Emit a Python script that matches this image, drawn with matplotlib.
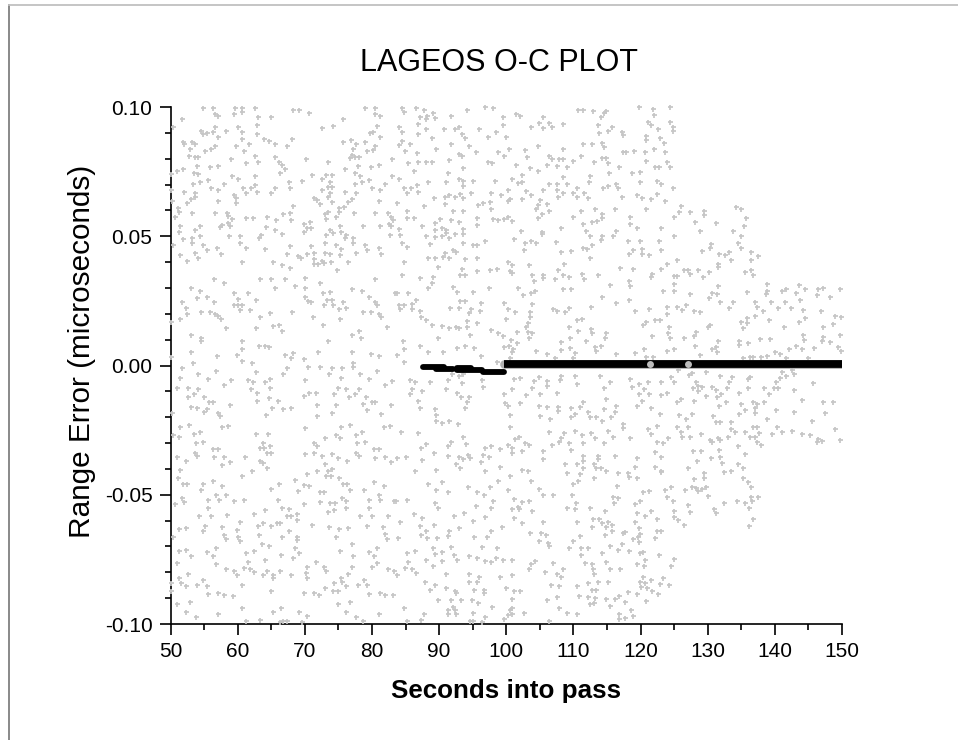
import numpy as np
import matplotlib
matplotlib.use('Agg')
import matplotlib.pyplot as plt
from matplotlib.lines import Line2D
from matplotlib.ticker import MultipleLocator

# all scatter values: (seconds into pass, range error in nanoseconds)
noise_top_left = [(54.9,99.5),(56.4,99.5),(59.6,99.5),(60.7,99.5),(62.6,99.5),(68.3,98.8),(69.2,98.8),(70.6,97.5),(78.9,99.5),(80.4,99.5),
(56.6,97.3),(57,96.5),(59.4,97.2),(60.7,98.2),(51.7,95.2),(63,96),(65,96),(75.7,95.2),(80.4,97.3),(81.2,96.6),
(50.3,92.4),(56.6,92.4),(60,92.1),(62.9,93),(72.6,91.7),(74.2,92.6),(80.7,92.6),
(54.6,90.8),(56.4,90.2),(58.2,90.7),(60.6,90.5),(62.9,89.5),(55.5,89.8),(54.9,89.4),(57,88.5),(80.2,90.2),(81.2,88.5),(79.7,89.8),
(51.8,86.6),(53.2,86.6),(53.7,85.6),(52,85.7),(60.7,87.5),(63.9,87.5),(64.6,87),(65.5,85.6),(68.1,87.5),(67.4,84.9),(59.8,84.9),(61.7,85.6),(75.7,86.6),(76.9,87.2),(77.6,85.6),(78.9,86.6),(80.4,84.9),
(52.9,83.6),(56.6,84.9),(56,83.6),(55.2,83),(61,83),(77.2,83.6),(79.3,83),(80.2,83.4),
(52.8,81),(53.6,80.5),(54.1,80.5),(59,80),(62.6,81.2),(65.5,80.5),(70.2,80),(77,81.4),(76.7,80.1),(77.5,80.5),(78.1,80.5),(83,80),
(61.3,78.2),(63,78.6),(66.1,78.6),(66.6,77.6),(73.4,78.8),
(54,77.2),(55.9,76.9),(57,77.3),(67.1,76.1),(77.9,77.3),(79.8,76.9),(81,77.6),
(50.9,75.4),(51.9,75.9),(50.1,74),(53.5,74.6),(54.1,74),(66.3,74.6),(76,75.9),(77.5,74.6),(78.2,73.3),(83,73.3),
(59.1,73.3),(62.6,73.3),(71.1,73.8),(73.2,73.8),(74.1,73.8),
(55.6,71.7),(54.4,71),(53.4,70.2),(60,72),(67.7,71),(69.6,71.5),(72.5,72.3),(79.5,71.7),(78.5,71),(77.5,70.2),(81.9,70.2),(73.7,71),
(58,70.2),(62.6,69.9),(62,68.8),(60.8,68.5),(56.1,68.5),(57.1,67.9),(65.5,68.5),(67.8,68.5),(73.5,69.2),(74,69.2),(80,68.5),(81.2,67.9),
(50,67.9),(52,67),(53.7,66.6),(53.7,65.3),(62.9,67.2),(61.2,66.6),(65,66.6),(72.5,67.9),(73.7,66.6),(76,67),(77.6,66.6),
(59.4,65.9),(59.8,64.7),(73.5,65.3),(71.3,64.9),(71.8,64),(77,64.4),(76.4,63.4),(81,63.6),
(50.2,63.8),(53,64.3),(52.5,63),(57,63.6),(59.8,63),(72.3,62.5),(74.1,63.4),(68.3,61.8),(75.8,61.2),(75.1,60.8),
(51.1,60.8),(51.2,59.5),(53.2,58.9),(56.6,59.1),(58.4,59.1),(58.6,57.8),(66.8,58.6),(67.8,58.9),(73.5,59.2),(73,58.6),(75.1,59.5),(77.3,58.9),(80.4,59.1),(82.4,59.1),(82.9,57.6),
(50.7,57.6),(61.2,56.9),(62.3,56.9),(64.3,57.3),(59.1,56.5),(65.7,56.3),(68,56.3),(74.6,57.6),(73.2,56.7),(83.2,56.3),
(58.6,55.2),(57.6,54.3),(57.4,53.7),(58.9,54),(69.9,54.7),(70.7,55.6),(70.3,53),(70.9,53),(51.4,54),(54.4,54),(64.2,53.7),(75.3,54),(78.6,54),(81.2,54),(82.5,54.7),(82.9,54),
(51.3,51.8),(53.7,52.4),(65.5,52.4),(73.7,52.4),(69.9,51.5),(74.2,51.1),(66.6,50.7),(75.4,51.5),
(58.7,50.2),(60.3,50.2),(63.5,50.5),(63.2,49.2),(54.4,50),(73.1,50.5),(76.2,50.5),(76,49.2),(77.2,49.2),(82.7,50.6),
(51.9,49),(53.2,49.2),(53.2,47.3),(50.4,46.6),(54.8,46.6),(60.3,47.3),(67.8,46.2),(70.9,46.3),(73,47.3),(74.6,46.5),(77.2,47.3),(78.9,46.5),
(55.4,44.7),(56.9,45.3),(61.2,45.3),(64.1,45),(75.4,45),(79.3,44.7),(81,45.3),
(51.4,42.7),(53.6,43.6),(57.5,43),(67.3,43),(69,42.4),(69.4,41.7),(70.4,43),(71.4,43.6),(73,43.4),(73.7,43),(75.3,42.7),(77.6,43.6),(81.4,43),
(54.1,41.4),(52.4,40.5),(60.7,39.9),(65.2,40.2),(71.3,41.1),(72.5,40.4),(73.9,39.9),(76.4,40.2),
(66.6,39),(67.8,37.6),(71.3,39.1),(72,39.1),(72.8,39.5),(74.8,36.9),
(56.5,33.3),(57.9,32),(63.3,33.3),(65,33.3),(67,33.3),(70,33.7),(80.4,33.3),(72.3,31.8),(68.5,30.9),
(53,29.8),(54.4,29),(65.5,30.1),(70.1,30.1),(77,29.6),(78.5,29),(83.4,28.2),(59.5,28.2),(61.5,27.9),(72.7,27.9),(73.7,28.3),
(53.9,26),(55.5,26.6),(60.1,25.6),(56.5,24.7),(51.7,24.7),(62.7,25.3),(70.1,26.6),(70.5,24.9),(70.9,24.7),(73.3,25.3),(74.1,25.3),(79.6,26.6),(80.4,24.7),
(59.5,23.4),(60,23.4),(60.6,23.4),(72.8,23.4),(74.2,23.4),(75.7,24.7),(80.8,23.4),
(52.3,22.4),(60.3,21.5),(61.8,21.5),(75.1,21.8),(76.2,22.4),
(52.4,19.8),(54.5,20.6),(55.9,20.8),(56.6,19.8),(57.1,19.1),(57.5,18),(64.8,20.2),(68.1,20.7),(78.6,20.6),(79.8,20.8),(81,19.8),(81.4,18.6),
(51.4,18),(50.1,17),(63.3,18.6),(71.2,18.9),(75.3,18),
(58.2,14.6),(62.7,14.4),(65.2,15.3),(66.2,15.5),(66.6,13.2),(72.7,15.5),(82.3,15),
(53,11.9),(54.5,10.5),(54.6,9.6),(60.6,9.6),(73.4,9.6),(77.1,11.7),(78.1,13.5),(78.4,10.8),
(63.2,7.7),(64,7.7),(64.6,7),(60.7,6.2),(53,5.2),(72,5.2),(77,5.2),
(56.9,3.7),(59.9,3.9),(67.1,3.9),(68.3,4.7),(68,2.9),(69.9,2.4),(79.9,4.3),(81,3.7),(50.1,3.2),
(60.7,1.6),(53.3,1.1),(77.2,1.1),(62.1,0.8)]

noise_top_mid = [(84.5,99.5),(84.7,98.2),(86.6,99.5),(87.7,98.8),(94.1,98.8),(98.1,99.5),(96.9,100),(110.7,98.8),(111.5,98.8),(112.9,98.6),(114.9,98.6),(114.6,97.5),
(87.1,96),(88.2,96.5),(88,95.2),(89.1,97.5),(89.4,95.6),(91.7,96.5),(99.5,96),(101.5,97.2),(102.1,96.5),(105.4,96),(114.1,96.3),
(86.8,93.3),(84,92.1),(88,91.5),(84.5,90.3),(86.8,89.5),(90.8,91.5),(92.3,91.4),(93,92.1),(95.9,91.5),(99.5,93),(98.5,90.3),(103.7,92.1),(104.9,93.7),(106.3,93.9),(106.8,92.1),(105.5,91.7),(108.4,93.4),(113.7,93),(115.8,92.1),(115.2,90.8),(113.8,89.8),(117.2,90.5),
(84.5,87),(84,85.3),(88.9,87.9),(93.4,89.4),(93.9,87.9),(97.3,88.5),(100,88.5),(85.6,85.7),(91.8,85.7),(94.5,84.9),(104.7,84.9),(111.5,85.6),(112.7,85.6),(114.3,85.9),(114.6,84.6),(117.4,89.2),
(84.9,83),(86.7,82.1),(89.5,83.6),(92.9,82),(93.4,81),(95.5,82.4),(98.7,82.4),(100.4,83.6),(99.7,81.2),(102.8,83.4),(108.4,83.6),(106.3,81.2),(111.2,81.2),(117.4,82.7),(103.1,80.5),
(86.8,78.8),(85.4,78.2),(88.1,78.6),(88.9,78.8),(91.4,79.5),(97.3,78.8),(97.9,78.2),(106.8,79.7),(107.8,79.9),(108.5,79.7),(107.5,77.3),(110,79.2),(113.1,78.8),(114.3,80.1),(114.9,80.1),(115.2,78.2),
(86.2,75.4),(93.6,76.4),(91.3,74.6),(101.4,77.6),(103.5,76.3),(104.8,75.4),(102.3,73.8),(106,77.6),(109.1,76.9),(116.8,76.9),(115.3,74.3),
(84,72.1),(88.4,71),(91,71),(92.9,72.1),(93.6,71.5),(95,71.5),(98.3,71.5),(100.9,72.1),(101.7,70.5),(102.3,71.1),(108.4,72.8),(112.4,73.3),(112.3,71),(106.3,70.2),(107.5,70.2),(109,70.2),(116.4,70.2),
(84.7,68.5),(85.8,68.8),(86.7,69.8),(86.9,67.2),(85.2,66.6),(93.6,69.4),(100.2,67.9),(103,67.6),(105.5,67.9),(107.6,67.9),(110.5,68.5),(115.1,69.4),(114.4,68.5),(116.7,68.5),
(83.8,63),(89.2,64.9),(90.9,65),(91.4,66),(92.3,65.3),(93.1,66.3),(93.6,64.9),(94.7,66.6),(97.8,66.6),(99.2,65.9),(103.7,65.9),(108.4,66.6),(107.7,65.3),(110,66.6),(110.6,65.3),(111.6,66.6),(112.1,64.9),(117.3,65),
(87.7,61.8),(90.9,62.5),(95.8,62.1),(96.5,63),(97.6,63.4),(100.6,64.3),(100.2,63.6),(102.3,64.4),(105.1,64),(106,62.3),(104.8,62.1),
(85.2,59.9),(92.1,59.9),(93.6,59.9),(97.7,60.7),(104.4,60.7),(106.3,59.9),(111.1,59.8),(113.2,60.4),(116.2,60.7),
(85.2,57),(86.3,57),(90.1,56.5),(91.8,56.3),(95.7,57),(98.1,56.7),(98.8,56.3),(99.6,56.7),(100.2,57.6),(100.9,55.8),(104.7,57),(105.3,58.6),(109.9,57.3),(114.3,58.6),(114.3,56.9),(113.5,56),(112.7,55.6),
(89.4,55),(92.9,55.4),(95.7,54.5),(87.5,54),(111.4,54.7),(108.2,53.3),
(84,52.8),(89.4,52.4),(90.4,53.3),(91.1,52.4),(93.6,52.8),(102.2,52),(105.3,51.8),(111.9,52),(116.3,52),
(84.2,50.3),(88.1,50.2),(89.4,49.6),(90.5,50.2),(91.1,51.1),(92.3,50.9),(93.6,50.7),(91.4,49.2),(105.3,50.9),(112.4,50.2),(114.3,50.2),(115.9,50.1),(101.1,49),(114.1,48.5),
(84.5,47.3),(85.2,45.7),(88.7,46.9),(93.5,47.5),(95,46.5),(95.7,46.5),(96.8,48),(102.8,47.3),(103.7,48.3),(104.4,47.3),(107.4,47.9),(112.8,46.5),
(92.1,44.7),(92.5,43.8),(102.7,44.7),(108.1,44),(109.6,44.4),(111.5,45.3),(112,45),
(88.3,41.7),(89.4,41.4),(90.9,43.6),(90.6,42.1),(91.5,41.7),(93.8,41.2),(95.7,41.7),(112.4,41.4),
(84.7,39.9),(89.9,38),(100.2,39.9),(100.9,39),(103.4,39),(108.6,39.3),(116.9,37.6),
(93.4,37.4),(95.7,36.5),(97.6,36.9),(98.6,37.4),(100.5,36.5),(100.8,35.6),(107.7,36.9),
(84.5,35),(89.1,34.4),(93.1,35),(93.9,35),(87.1,33.7),(103.8,35),(105.4,35),(108.5,35),(105.4,33.7),(109.3,34.4),(111.3,35.4),(113.6,35),(104.2,32.7),(107.3,33.3),(111.6,33.3),
(88.9,32),(88.4,30.1),(92,30.5),(97.5,30.1),(101.7,30.1),(108.5,29.6),(109.6,29.5),(115.4,31.1),
(83.7,28.2),(85.4,27.9),(92.7,28.4),(95,28.4),(103.7,28.2),(104.3,29),(102.5,27.1),(114.3,26.4),
(84.1,23.4),(84.7,23.4),(86.5,25.3),(85.9,23.8),(93.1,24.8),(93.8,24.8),(96.2,24.3),(99.7,24.3),(103.9,23.8),(116.4,24.3),
(84.2,21.7),(85.9,21.7),(87.2,21.2),(91.6,22.2),(93,22.2),(94.8,21.7),(96.1,21.2),(100.2,21.7),(101.3,20.7),(103.5,20.8),(107,21.7),(107.5,21.2),(108.7,20.7),(109.3,22.2),(112.6,22.6),(94.4,20.4),
(87.3,18.6),(88.1,17.6),(94.1,17.2),(95.7,16.6),(100,18),(103.5,18.9),(110.5,17.6),(111.3,18),
(88.9,15.5),(90.4,15.3),(91.5,14.4),(92.5,15),(93,14.5),(94.1,15),(103.2,16.3),(103,14.8),(109.3,15),
(89.9,10.8),(94.6,11.9),(97.8,13.7),(98.7,12.4),(99.5,11.4),(101.6,12.8),(103.3,13.1),(103.9,12.4),(103.4,10.8),(110.7,13.2),(112.6,14.2),(112.7,12.4),(114.9,12.4),(114.7,10.8),
(84.6,9.6),(100.7,9.9),(101.6,8.8),(108.2,9),(109.5,10.6),(111.9,9.5),
(87.2,7.7),(84.7,6.2),(88.4,5.1),(90.6,5.2),(92.7,6.8),(93.9,7.7),(95.2,6.6),(99.7,7),(100.4,7.7),(101,6.5),(100.8,5.1),(104.4,5.6),(108.1,6),(109.5,6.6),(113.2,7.3),(114.1,7.7),(113.4,5.7),
(83.7,3.9),(96.2,3.7),(106,4.4),(110.2,4.7),(116.3,4.4),(107.2,2.8),(84.7,1.5),(98.6,1.5),(100.6,2.8),(109.9,2.8)]

noise_top_right = [(119.7,100),(121.9,99.2),(122,97),(124.4,100),(121.1,94.3),(121.6,92.9),(124.4,94.3),(124.9,92.4),(124.9,90.8),(122.6,91.6),(120.8,88.8),(120.8,87.2),(122.9,87.9),(123.5,86.2),
(117.9,82.5),(119,83.1),(120.6,82.7),(122,83.6),(123.6,82.7),(120.8,79.2),(123.9,78.8),(122.1,76.9),(122.7,76.9),(124.4,76.9),(118.8,74.3),(119.9,74.8),(119.9,71),(122.5,71.5),(123.1,70.2),(124.9,68.8),(119.5,65.9),(120.2,64.9),(121.6,64.3),(122.5,66.3),(123.6,63.6),(120.8,60.7),
(126,61.8),(125.7,59.4),(125,57.6),(127.4,59.4),(129.5,59.9),(129.5,58.2),(118.5,57.6),(118.5,54.6),(119.5,53.3),(123,53.3),(128.1,55.4),(131.3,55),(128.8,52),(134.2,61.2),(134.9,60.7),(135.7,56.9),(135.4,53.9),(133.7,52),(134.9,50.2),
(125,50.2),(118.2,48.3),(119.9,48.3),(122.7,48.1),(134.5,47.3),(135,45.3),(130.5,47),(130.3,45.6),(129.1,44.4),(118.9,44.7),(118.3,43),(120.2,45),(120.2,43),(121.3,42.6),(123,44.7),(125.5,41),(131.7,43),(132.6,42.7),(133.1,44),(133.5,40.8),(136.5,43.9),(137.5,42.4),(136.5,41),
(124,39.3),(131.6,39.3),(131.6,38.2),(118.9,37.4),(123,37.4),(121.7,35.4),(121.6,34.4),(125,34.6),(125.5,34.7),(126.5,36.9),(127.1,36.9),(127.4,35.4),(128.6,36.9),(129.3,34.4),(130.2,36.3),(135.6,36.3),(136.5,36.9),(136.8,35),
(118.3,32.8),(118.5,30.7),(125,31.4),(125,29),(123.4,29),(127.4,27.8),(131.6,30.7),(130.6,27.9),(131.4,27.8),(130.2,26),(135.8,28.3),(138.9,31.5),(138.9,29),(138.7,27.8),(141,29),(141.6,29.6),(143.6,31.1),(143.2,27.9),(144.5,29.6),(146.4,29.6),(147.1,30.1),(149.7,29.6),(146.3,27.1),(148.2,26.6),(143.8,25.3),
(118.3,25.3),(131.9,24.7),(133.7,24.7),(137,24.7),(139.4,24.4),(141.5,24.7),(137.3,22.7),(133.1,22.2),(126.7,23.5),(125.5,22.6),(123.9,22.6),(119.2,21),(121.3,21.7),(126.2,21.5),(127.9,21.2),(128.8,20.6),(123.9,19.9),(138.3,21.2),(140.5,22.2),(142.4,22.2),(144.2,21.5),(146.9,21),(148.9,19.1),(149.9,18.6),
(120.8,16.8),(120.3,15.7),(122.2,17.5),(122.9,17.5),(124.3,15),(135.8,18.2),(135,16.9),(135.8,16.6),(137,19.1),(139.1,17.6),(130.3,15.7),(130,14.8),(135.2,14.5),(141.3,15),(143.6,16.8),(144.5,18.2),(147.2,15),(148.7,16),
(124.1,12.7),(124.4,10.8),(121.7,11.4),(126.4,10.8),(128.2,12.8),(127.9,11.4),(131.6,9.6),(134.7,9.6),(134.7,7.9),(136,8.8),(137.8,10.4),(139.3,10.1),(144.2,11.9),(144.3,9.9),(147.2,10.9),(147,9.6),(148.2,9.2),(149.7,11.9),
(128.1,7.7),(125,6.5),(123.9,5.6),(120.5,6.5),(130.7,6.2),(131.3,7.3),(131.4,5.1),(119.2,4.7),(120.8,3.4),(121.8,3.4),(128.8,3.9),(143.1,7.7),(144.1,6.5),(142.1,6.2),(145.8,6.8),(149.4,7),(149.8,5.6),(140,5.1),(140.8,4.4),(136.3,3.4),(136.8,3.4),(138,3.4),(138.9,3.8),(135.3,2.8),(141.7,2.8),(144.9,2.8)]

noise_bottom_left = [(51.7,-0.8),(56.8,-2),(54.1,-3.3),(51.4,-4.7),(55.6,-5.3),(59,-5.6),(62.7,-2.4),(61.6,-5.6),(62.3,-6.2),(64.1,-6.2),(64.8,-5.2),(66.8,-3.3),(67.3,-0.8),(70.1,-5.6),(70.5,-0.4),(72.3,-0.4),(73.6,-3.3),(74.1,-1.1),(75.6,-0.8),(78.2,-3.3),(77.2,-0.4),(80.7,-2),(79.6,-5.3),(83,-5.9),(75.4,-5),(81.9,-7.5),
(51,-8.8),(52.6,-8.8),(54.1,-9.2),(58,-7.5),(62,-9.2),(62.9,-10.6),(64.8,-8.8),(53.5,-11.1),(52.6,-12.3),(55,-12.3),(64.6,-12.7),(71.7,-10.6),(70.6,-10.6),(69.9,-11.8),(75,-8.8),(74.4,-11.1),(76.2,-9),(76.6,-12.3),(77.5,-11.1),(78.1,-9.2),(79.1,-12.3),
(55.8,-14.2),(56.4,-14.2),(62.9,-13.6),(66,-13.6),(78.6,-14.8),(80,-14.2),(80.5,-14.2),(71.8,-15.3),(74.6,-15.3),(82.8,-15.3),
(53,-16),(54,-16.6),(55.4,-17),(58.9,-15.3),(65.1,-16.6),(66.8,-16.8),(67.9,-16.6),(50.2,-18.2),(55,-17.9),(57.1,-18.5),(57.4,-19.4),(64.2,-19.1),(71.8,-19.4),(74.1,-18.2),(79.2,-17.2),(81.3,-18.9),(70.1,-24.3),
(51.4,-23.9),(52.8,-23),(57.7,-23.9),(58.5,-23.4),(75.4,-23.9),(76.7,-23),(81.8,-23.9),(82.7,-23.4),(53.5,-26.4),(54.4,-25.8),(62.7,-26.4),(50.4,-26.9),(51.3,-27.5),(64.5,-26.4),(73,-27.9),(74.6,-26.9),(75.3,-27.9),(77.6,-26.9),(78.5,-25.8),
(53.8,-30.1),(54.9,-29.5),(63.8,-30.1),(64.8,-31.1),(71.3,-30.1),(71.8,-31.1),(77.8,-30.1),(78.9,-29.5),(63.3,-32),(63.9,-32),(56.3,-32.4),(57,-32.4),(80.3,-32.4),(81,-32.4),
(53.7,-33.7),(54,-34.9),(64.3,-33.7),(65,-33.7),(70.1,-34.2),(71.3,-33.7),(72.5,-34.9),(74.1,-34.2),(75,-35.6),(77.6,-33.7),(78.1,-34.9),(81.9,-35.3),(80.5,-35.6),(51,-35.5),(56.5,-35.5),(58,-35.3),(61.1,-35.5),(52.3,-37.1),(58.9,-37.5),(63.3,-36.8),(63.8,-37.8),(76.3,-37.1),(82.9,-37.5),
(57.6,-38.5),(73,-38.2),(64.4,-39.8),(51.4,-40.4),(62.2,-41),(71.8,-41),(74,-40.2),(73.5,-41),(60.6,-42.7),(70.3,-42.1),(73.2,-42.7),(73.9,-42.7),(51.1,-43.4),(75.1,-43.4),
(56.3,-44.7),(68.5,-44.3),(66.2,-45.8),(51.8,-45.8),(52.4,-45.8),(54.9,-45.8),(57.7,-46.5),(69.9,-46.2),(70.6,-46.5),(75.7,-45.8),(76.3,-45.8),(80.3,-44.9),(81.8,-46.5),
(65,-47.8),(54.6,-48.3),(69,-48.5),(72.3,-48.8),(72.9,-48.8),(76.8,-48.3),(78.8,-48.3),(56.8,-50.1),(58.2,-50.1),(81,-50.1),
(51.7,-51.4),(52,-52.7),(50.7,-53.7),(55.6,-52),(57.2,-52),(59.5,-52.3),(61,-52),(66,-52),(69.9,-53.7),(72.3,-52.7),(73.7,-53),(74.5,-53),(75.5,-51.4),(76.1,-52.4),(79.6,-52),(81.2,-52),(83.3,-52.3),
(55.6,-55),(66.6,-55),(67.7,-55.6),(79.6,-55),(76.1,-55),(64.1,-55.9),(74.4,-55.9),(73.5,-56.8),
(54.2,-58.1),(56.1,-58.1),(58.4,-57.8),(62.4,-57.4),(67.3,-58.1),(68,-58.1),(68.8,-57.4),(78.2,-58.1),(80,-58.1),(82.4,-58.1),
(60.3,-60.4),(68.8,-59.8),(63.8,-61),(65.8,-61),(66.3,-61),(63.1,-62),(65,-62),(55.1,-62),(57.6,-62.3),(71.1,-61.7),(73.6,-62.3),(79.2,-62),(81.6,-62.3),
(51.2,-63.2),(52.3,-63),(54.9,-64),(59.9,-63.8),(67.7,-64),(75.1,-63.2),(76.4,-63),(81.9,-65.3),
(58,-65.6),(63.2,-65.6),(50.4,-66.5),(58.3,-67.1),(60,-66.5),(60.3,-67.8),(66.6,-66.5),(68.8,-66.5),(68.8,-67.5),(74.6,-66.5),(82.2,-67.1),
(63.6,-69),(64.7,-69.7),(77,-69),(80.7,-70.7),(56.8,-70.7),(68.5,-70.7),
(51.3,-71.8),(52.3,-71.4),(55.5,-72),(62.4,-71.6),(75.3,-71.6),(79.5,-72),(61.2,-72.7),(69.1,-72.7),(53,-73.8),(56.3,-73.8),(66.4,-73.3),(77.2,-73.8),(80.3,-73.8),(68.2,-74.3),
(50.9,-76.3),(56.8,-76.9),(61.5,-75.9),(64.1,-75.2),(71.7,-76.1),(80.7,-76.5),
(58.3,-78.8),(61,-78.2),(61.8,-78.7),(59.4,-79.4),(62.5,-80),(64.3,-79.4),(66.3,-79.4),(70.4,-78.1),(72.8,-77.8),(73.1,-79.4),(77,-78.1),(80,-78.1),(82.4,-78.8),(83.3,-79.4),
(52.6,-80.8),(59.9,-81),(63.8,-81),(65.3,-81),(68,-81),(70.2,-80.4),(76.5,-80.8),(51.3,-82.3),(54.9,-83),(70.4,-82.3),(65.3,-82.1),(75.4,-82.3),(78.8,-83),
(50.1,-84.3),(51.6,-84.3),(52.3,-85.2),(54,-84.9),(55.4,-85.3),(60.6,-84.9),(74.4,-84.3),(75.5,-83.6),(76.2,-85.3),(73,-85.9),(77.9,-84.9),(79.3,-84.9),
(50.1,-87.2),(55.6,-88.4),(57.1,-87.9),(58,-88.9),(59.3,-89),(65,-87.2),(69.9,-87.9),(71.3,-88.1),(72.1,-88.8),(74.2,-87.2),(74.9,-87.2),(79.6,-88.4),(81.2,-87.9),(82,-88.9),(83.2,-88.9),
(51,-92.3),(52.9,-91.5),(75,-92.3),(76.8,-91.5),
(60.7,-93.9),(66.4,-93.9),(52.3,-95.2),(65.2,-95.2),(57,-96.3),(69.2,-95.2),(76.2,-95.2),(53.8,-97.2),(70.4,-96.9),(77.6,-97.2),(81.1,-96.3),
(61.2,-98.8),(63.3,-98.4),(66.8,-98.8),(67.3,-98.8),(66.3,-99.2),(69.6,-99.4),(78.6,-98.8)]

noise_bottom_mid = [(91.9,-3.4),(92.9,-3.9),(93.6,-3.4),(85.7,-5.6),(86.4,-6.5),(88.6,-6.2),(91.3,-5.6),(93.4,-6.9),(96.4,-5.6),(96.6,-8.4),(101.2,-5.2),(102,-4.7),(104.9,-4.3),(104.2,-6),(103.8,-8.6),(106,-5.9),(106,-7.8),(108,-5.6),(108.1,-3.9),(110.2,-3.9),(110.6,-7.3),(114,-3.9),(115.4,-6.2),(114.6,-8.8),
(85.9,-9),(87.4,-9.9),(91,-9.2),(100.9,-9.2),(85.7,-11.1),(92.6,-10.8),(93.2,-12.3),(94.5,-12.3),(99.7,-10.9),(103,-11.4),(105.1,-11.1),(107.5,-10.8),(114.9,-13),
(86.8,-13.6),(94.1,-14),(99.8,-14.6),(100.2,-15.7),(102,-14.6),(111.5,-14.2),(87.1,-16.3),(89.4,-17),(93.8,-16.6),(104.9,-15.7),(106,-16),(107.7,-16),(109.6,-16.6),(111,-16),(114.6,-17),(116.4,-15.7),(107.7,-17.6),(112.2,-17.9),
(89.6,-19.1),(100.6,-19.1),(105.1,-19.5),(106.5,-20.8),(109.7,-20),(110.2,-18.6),(112.5,-20),(113.4,-20),(115.6,-20),(116.2,-17.9),
(89.6,-21.3),(90.4,-22.1),(91.5,-21.5),(92.8,-22.8),(114.2,-21.3),(117.4,-22.8),(100.6,-23.9),(117.4,-24.3),(115.2,-25.2),
(84.3,-25.8),(86.8,-26.1),(106.3,-25.8),(108.6,-26.1),(110.2,-25.3),(111.3,-26.9),(112.6,-26.1),(113.2,-28.2),(115.9,-27.5),
(93.6,-27.5),(91.7,-29.5),(94,-30.4),(101.9,-27.5),(101.3,-28.6),(108.1,-28.2),(107.8,-29.7),(109.3,-30.1),(111.5,-30.1),(114.6,-29.8),(88,-30.4),(102.8,-30.1),(103.4,-30.6),(106.8,-30.6),
(87.3,-31.8),(91.3,-31.1),(96.9,-31.8),(97.7,-31.1),(100.2,-30.7),(100.8,-32),(99.1,-32.4),(102.3,-33),(105.4,-33),(109.6,-32.7),
(89.3,-34),(100.8,-34),(91.3,-34.9),(94.3,-34.6),(96.6,-34.6),(97.4,-35.3),(116.2,-34.9),(111.5,-34.9),(113.6,-34.9),
(83.8,-35.9),(85.1,-35.5),(87.4,-36.4),(92.9,-35.5),(93.6,-36.2),(94.6,-35.9),(105.4,-36.2),(111.4,-36.8),(113.6,-36.2),(92.5,-38),(96.3,-37.2),(108.8,-38),(110.5,-38),(113.1,-38),
(93.1,-39.8),(99.1,-39.1),(111.5,-39.5),(113.3,-39.8),(114.1,-39.8),(86.4,-40.8),(89.5,-40.4),(96.8,-40.7),(102.3,-40.4),(103.3,-40.8),(114.9,-41),(109.1,-41.6),(111,-41.8),(116.6,-41.6),
(100.5,-42.7),(113.1,-43.4),(90.4,-44.9),(103.7,-44.5),(98.8,-44.5),(110.7,-44.5),(88.4,-45.8),(110,-45.8),(116.5,-46.5),(94.3,-46.9),(97.6,-47.1),
(89.6,-48.3),(91.3,-48.8),(95.6,-48.8),(100.2,-48.3),(104.9,-47.8),(96.7,-50.1),(105.4,-50.1),(107,-50.1),(109.8,-50.1),(115.9,-50.7),(116.7,-51.4),
(83.6,-52.3),(85.2,-52.2),(98.1,-52.4),(101.1,-51.8),(103.4,-52.4),(89.4,-53.3),(102.3,-52.9),(110.4,-53),(116.1,-53),(95.5,-54.3),(89.9,-55),(101.7,-54.6),(109.1,-55),(112.5,-55),
(97.7,-55.2),(100.9,-55.6),(103.9,-56.2),(101.9,-55.6),(110.3,-55.6),(114.7,-56.2),(86.3,-57.4),(93.7,-57),(92.2,-58.2),(96.8,-58.5),(87.5,-59),(101.2,-59.1),(113.8,-59.4),(112.9,-59.4),(84.2,-60.4),(95,-60),(105.4,-60.4),(110.5,-60.4),(102.3,-61),(114.2,-61),(115.2,-60.7),
(87.2,-62),(89.3,-61.7),(99.3,-62.3),(112.7,-62.3),(114.9,-62.3),(115.7,-61.7),(92.9,-63),(88,-64),(91.5,-64),(97.8,-64),(103.5,-64.7),(105.2,-64.7),(115.7,-64),(117.4,-64.7),
(87.3,-65.6),(88.2,-66.6),(89.7,-66.6),(91.3,-66),(95.2,-66.5),(97.2,-66.5),(105.9,-65.6),(111,-66),(114.7,-65.6),(83.9,-66.9),(104.9,-67.8),(106.2,-68.5),(109.9,-67.8),(117.3,-69),
(91.7,-70.2),(96.4,-70.2),(98.6,-70.7),(89.1,-70.7),(90.5,-72),(86.4,-71.6),(85.2,-72.7),(106.3,-69.7),(109.3,-70.7),(111.2,-70.7),(112.1,-70.7),(115.4,-69.8),(116.6,-71.4),
(89.4,-72.8),(92.2,-73.3),(94.5,-73.6),(111.2,-73.3),(114.2,-72.7),(88.1,-75.2),(92.6,-75.4),(95.7,-74.6),(96.9,-75.6),(97.8,-75.9),(98.4,-74.6),(99.5,-75.4),(100.9,-75.1),(104.3,-75.5),(90.5,-75.6),(85.4,-75.9),
(103.7,-76.7),(107,-76.5),(111.7,-76.5),(112.7,-76.8),(114.9,-76),(89.1,-77.6),(84.9,-78.2),(85.9,-78.7),(103.4,-78.7),(108.4,-78.7),(112.9,-78.7),(115.4,-78.7),(116.9,-78.7),(86.5,-80.1),(83.8,-81),(91,-80.6),(94.4,-80.6),(105.8,-79.9),(107.5,-80.6),(113.1,-80.6),(99.1,-81.7),(100.9,-81),(95.9,-81.8),(108.1,-81.8),
(87.9,-83.6),(94.4,-83.6),(95.7,-83.6),(112.1,-84.3),(113.7,-83.6),(115.2,-83.6),(89.4,-84.9),(91,-86),(99.9,-86),(106.6,-84.9),(107.9,-85.3),(110.5,-85.3),
(88.7,-86.7),(92.3,-87.1),(95.2,-86.7),(96.7,-86.8),(101.1,-87.2),(102.1,-87.2),(112.7,-86.7),(113.4,-86.7),(92.5,-88.1),(96.7,-87.9),
(107.5,-89.7),(110.9,-89),(112.2,-89.7),(113.2,-90.1),(114.9,-90.4),(116.2,-90.4),(116.8,-89),(89.9,-90.8),(91.8,-90.8),(93.3,-90.8),(94.9,-90.8),(100.9,-90.4),(106,-90.8),(95.8,-92),(112.4,-92.4),(113.1,-91.9),
(84.7,-93.9),(115.4,-92.9),(92,-93.3),(92.4,-94.6),(97.9,-93.3),(100.9,-93.7),(100.6,-94.6),(107.9,-93.9),
(91.3,-94.6),(91.3,-96.3),(87.7,-96.3),(92.5,-96.3),(95.1,-95.7),(96.9,-97.2),(100.3,-96.5),(100.9,-96.3),(102.7,-95.7),(109.1,-95.7),(110.5,-96.3),(116.8,-96.3),(116.8,-98.2),
(85.2,-98.8),(87.3,-98.4),(94.6,-98.8),(95.1,-98.8),(96.4,-99.4),(99.7,-98.1),(106.3,-98.8)]

noise_bottom_right = [(125.6,-1.7),(129.7,-2.6),(127.6,-3),(127.2,-3.7),(141,-2.6),(142.6,-1.7),(142.9,-3.4),(141.7,-3.9),(140.8,-4.7),(131.8,-3.9),(133.6,-4.6),(136.3,-4.3),(136,-5.3),(118.5,-5.2),(121.1,-6.2),(123.1,-6.2),(124.6,-4.6),(125,-6.2),(128.2,-6.2),(133.1,-6.2),(140.2,-6.2),(145.7,-6.9),
(119.7,-7.3),(118.8,-8.2),(120.5,-9.2),(127.8,-8.8),(128.6,-7.8),(128.6,-9.9),(129.2,-8.2),(130.7,-8.2),(131.2,-9.5),(132.8,-8.8),(136,-8.8),(138.4,-8.8),(139.8,-8.8),(140.4,-8.6),(142.9,-9.6),(119.7,-11.1),(121.3,-11.1),(123.1,-11.4),(123.9,-10.6),(129.7,-11.8),(131.4,-12),(132,-11.1),(134.7,-10.6),(139.1,-11.1),
(120.2,-13.6),(125.5,-14.2),(126,-13),(127.9,-13.6),(132.7,-14.2),(134.9,-14.8),(136.8,-14.2),(137.3,-14.8),(138.4,-14),(144,-13.3),(147.2,-14.2),(148.7,-14.2),(119.4,-15.5),(121.5,-16.6),(131.7,-15.5),(137,-16.3),
(135.6,-17.2),(137,-18.5),(134.7,-18.9),(140.2,-17.2),(142.9,-17.9),(147.5,-18.5),(122.9,-18.8),(125.7,-19.1),(127.6,-18.8),(130.8,-19.4),(126.7,-20.8),(138.9,-20.8),(145.5,-21.5),
(131.3,-22),(131.9,-22),(133.5,-22),(122.5,-23.3),(125.5,-23.9),(127.1,-23.9),(133.4,-24.6),(136.7,-23.9),(137.3,-23.9),(140.3,-23.9),(149,-24.6),(121.1,-24.6),
(126,-25.6),(134,-25.8),(135.5,-25.8),(137.7,-26),(139.6,-26.4),(141,-25.8),(142.6,-25.2),(144.1,-26.4),(145.2,-27),(121.5,-26.6),(129,-26.4),
(126.2,-27.5),(127.4,-27.5),(133,-27.5),(136.3,-27.5),(137.1,-27.5),(118.5,-28.2),(124.1,-28.2),(130.3,-28.7),(130.7,-29.5),(131.5,-28.2),(131.8,-28.7),(137.3,-29.5),(146.4,-28.4),(146.3,-29.7),(147,-29.2),(149.7,-28.8),
(122.5,-29.7),(123.4,-30.1),(137.9,-30.7),(134.5,-31),(122.2,-33.3),(127.8,-33),(129,-33),(131.7,-32.6),(135.5,-34.2),(119.5,-35.9),(123,-35.5),(130.5,-35.9),(131.8,-35.5),
(128.4,-36.9),(132.1,-37.7),(134.5,-38),(119.2,-39.1),(122.2,-39.1),(127.1,-39.8),(135.2,-39.8),(123.1,-40.8),(123,-41.3),(118.1,-41.7),(132.4,-41.3),(133.5,-41),(129.4,-41.7),(129.5,-43.4),(118.3,-43),(119.4,-43.4),(127.9,-44),(135.2,-43.6),(136,-45.2),
(127.6,-47.1),(124.6,-46.9),(126.6,-48),(128.3,-47.2),(128.6,-48.5),(129.2,-47.8),(129.8,-47.1),(136.5,-47.1),(123.7,-48.3),(121.3,-48.5),(120.4,-48.9),
(123.9,-50.7),(130.1,-50.3),(136.5,-50.7),(137.5,-50.7),(119.9,-52.4),(124.8,-52.4),(132.5,-53),(134.3,-52.4),(135.5,-53.2),(136.6,-52.4),(119.1,-53.7),(127.1,-54),
(136.2,-55),(130.9,-55.5),(131.3,-57),(119.5,-57),(121.6,-56.1),(125,-56.1),(127.4,-56.8),(120.6,-58.1),(125,-58.6),(122.5,-59.5),(125.6,-59.9),(136.8,-59.2),(119.1,-60.4),(126.5,-61.7),(136.1,-62),
(119.7,-63),(122.5,-64),(123.1,-64),(117.7,-64.3),(119.9,-65.3),(119.6,-66.2),(118.9,-67.1),(122.2,-66.6),(119.8,-68.1),(118.3,-71.8),(119.9,-72.7),(120.4,-72),(122.8,-73.3),(125,-74.7),(120.6,-75.4),(120.5,-77.4),(119.4,-76.9),(124.6,-77.7),
(120.3,-81.7),(121.5,-83),(123.4,-82.3),(119.9,-83.9),(120.6,-84.3),(122.9,-84.5),(124.2,-84.9),(120,-85.5),(120.9,-86.2),(121.7,-87.2),(122.6,-88.5),(118.1,-87.7),(119.4,-88.5),(120.8,-91.1),(117.7,-91.5),(118.6,-94.7),(118.9,-96.9),(117.7,-97.5)]

# short overlapping black pieces before 100 s: (start, end, error)
early_pieces = [(87.6, 90.8, -0.0005), (89.5, 92.0, -0.0012), (92.7, 94.8, -0.0008),
                (92.6, 96.4, -0.0016), (96.5, 99.6, -0.0024)]
late_x = [99.7, 150.0]
late_y = [0.0004, 0.0004]
gap_x = [121.4, 127.0]
gap_y = [0.0004, 0.0004]

x_ticks = [50, 60, 70, 80, 90, 100, 110, 120, 130, 140, 150]
y_ticks = [-0.10, -0.05, 0.00, 0.05, 0.10]

plt.rcParams['font.family'] = ['Liberation Sans', 'DejaVu Sans']

fig = plt.figure(figsize=(9.58, 7.4), dpi=100)
ax = fig.add_axes([170.5 / 958, 1 - 624 / 740, 671.5 / 958, 517 / 740])

noise = np.array(noise_top_left + noise_top_mid + noise_top_right
                 + noise_bottom_left + noise_bottom_mid + noise_bottom_right)
ax.plot(noise[:, 0], noise[:, 1] / 1000, ls='none', marker='+', ms=3.6, mew=1.25,
        color='#c6c6c6', clip_on=False, zorder=5)

for x0, x1, err in early_pieces:
    ax.plot([x0, x1], [err, err], color='black', lw=4.2, solid_capstyle='round', zorder=7)
ax.plot(late_x, late_y, color='#b0b0b0', lw=6.3, solid_capstyle='round', zorder=6)
ax.plot(late_x, late_y, color='black', lw=5.6, solid_capstyle='butt', zorder=7)
ax.plot(gap_x, gap_y, ls='none', marker='o', ms=5, mew=0, color='#bdbdbd', zorder=8)

ax.set_xlim(50, 150)
ax.set_ylim(-0.10, 0.10)
ax.set_xticks(x_ticks)
ax.set_yticks(y_ticks)
ax.set_yticklabels(['%.2f' % v for v in y_ticks])
ax.xaxis.set_minor_locator(MultipleLocator(5))
ax.yaxis.set_minor_locator(MultipleLocator(0.01))
ax.tick_params(which='major', length=8, width=1.2, labelsize=15, pad=5, direction='out')
ax.tick_params(which='minor', length=4, width=1.2, direction='out')
ax.spines['top'].set_visible(False)
ax.spines['right'].set_visible(False)
ax.spines['left'].set_linewidth(1.2)
ax.spines['bottom'].set_linewidth(1.2)

fig.text(499 / 958, 1 - 63 / 740, 'LAGEOS O-C PLOT', fontsize=22, ha='center', va='center')
fig.text(506 / 958, 1 - 691 / 740, 'Seconds into pass', fontsize=18.7, fontweight='bold', ha='center', va='center')
fig.text(82 / 958, 1 - 351 / 740, 'Range Error (microseconds)', fontsize=21.4, rotation=90, ha='center', va='center')

# window frame from the screenshot
fig.add_artist(Line2D([9 / 958, 9 / 958], [0, 1 - 5 / 740], color='#808080', lw=1.3))
fig.add_artist(Line2D([9 / 958, 1], [1 - 5 / 740, 1 - 5 / 740], color='#c0c0c0', lw=1.3))

fig.savefig('out.png', dpi=100)
